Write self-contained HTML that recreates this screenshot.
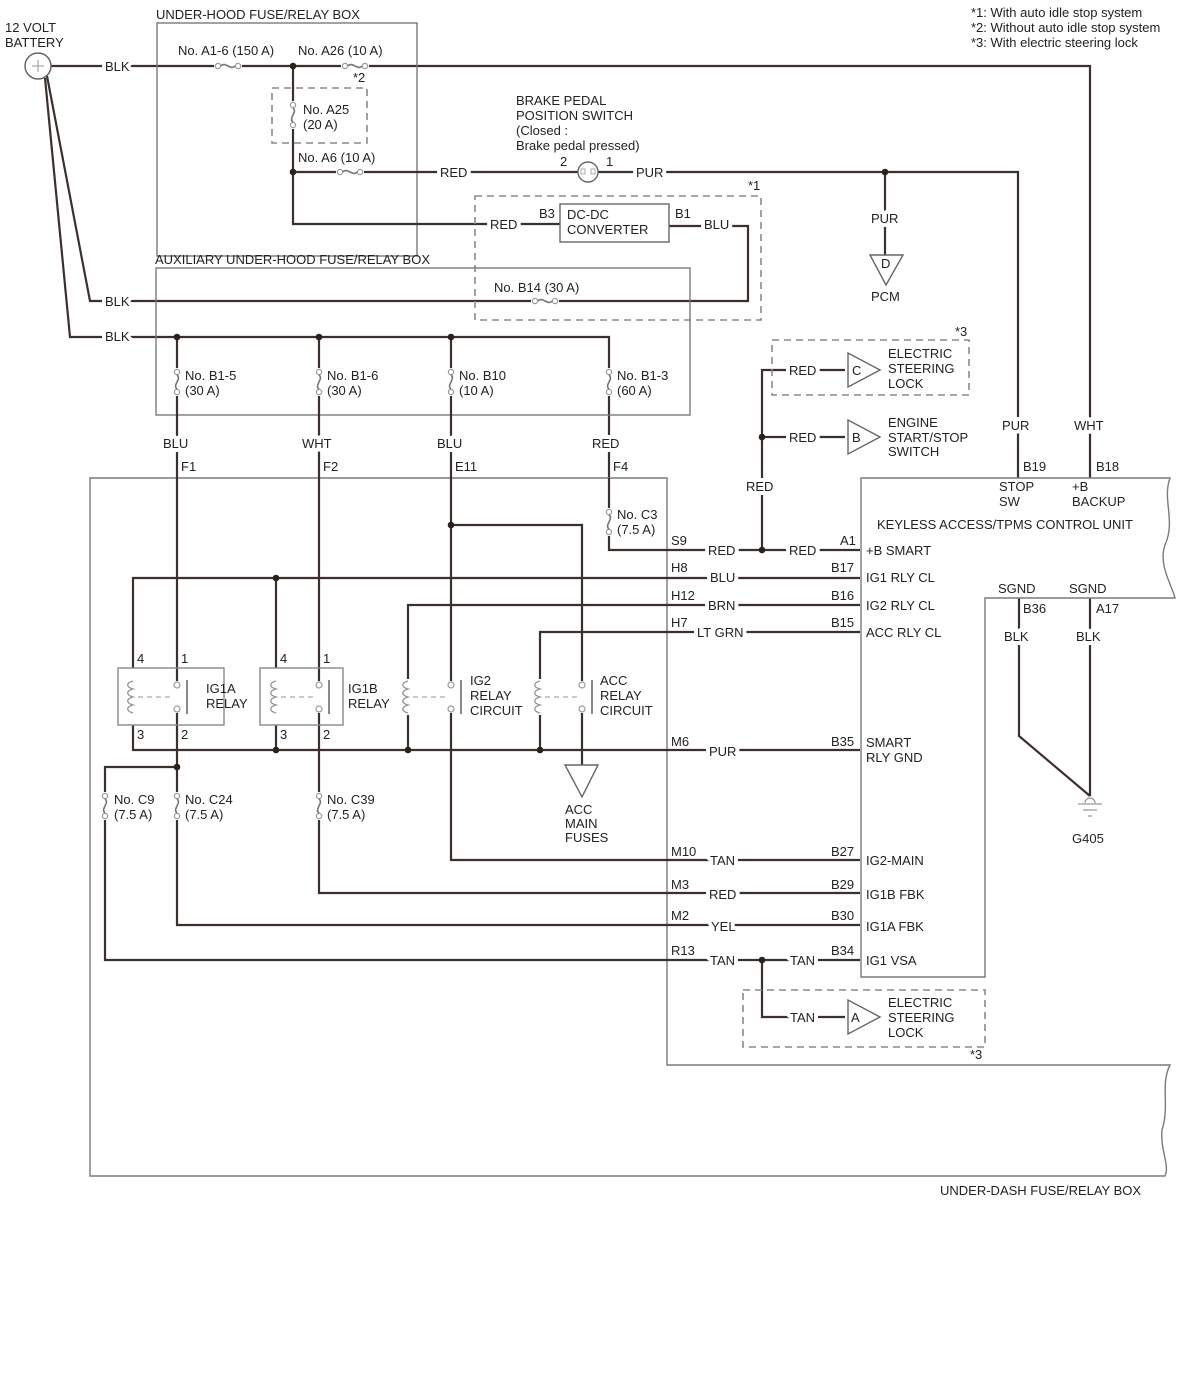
<!DOCTYPE html>
<html><head><meta charset="utf-8"><style>
html,body{margin:0;padding:0;background:#fff}
svg{display:block}
text{font-family:"Liberation Sans",sans-serif;font-size:13px;fill:#222}
.w{stroke:#3b302c;stroke-width:2.2;fill:none}
.b{stroke:#7a7a7a;stroke-width:1.4;fill:none}
.d{stroke:#8a8a8a;stroke-width:1.6;fill:none;stroke-dasharray:7 5}
.l{stroke:#fff;stroke-width:8;paint-order:stroke;stroke-linejoin:round}
</style></head><body>
<svg width="1200" height="1380" viewBox="0 0 1200 1380" xmlns="http://www.w3.org/2000/svg">
<defs>
<g id="vf"><rect x="-4" y="-14" width="8" height="28" fill="#fff"/><circle cx="0" cy="-10" r="2.6" fill="#fff" stroke="#999" stroke-width="1.2"/><circle cx="0" cy="10" r="2.6" fill="#fff" stroke="#999" stroke-width="1.2"/><path d="M0,-7C5,-3 -5,3 0,7" fill="none" stroke="#777" stroke-width="1.6"/></g>
<g id="hf"><use href="#vf" transform="rotate(90)"/></g>
<circle id="dot" r="3.3" fill="#2a201c"/>
<g id="coil"><rect x="-5" y="-18" width="10" height="36" fill="#fff"/><path d="M0,-16c-7,2-7,6 0,8c-7,2-7,6 0,8c-7,2-7,6 0,8c-7,2-7,6 0,8" fill="none" stroke="#999" stroke-width="1.4"/></g>
<g id="ct"><rect x="-5" y="-16" width="10" height="32" fill="#fff"/><circle cx="0" cy="-12" r="3" fill="#fff" stroke="#999" stroke-width="1.2"/><circle cx="0" cy="12" r="3" fill="#fff" stroke="#999" stroke-width="1.2"/><path d="M10,-17V17" stroke="#888" stroke-width="2"/></g>
</defs>

<!-- notes -->
<text x="971" y="17">*1: With auto idle stop system</text>
<text x="971" y="32">*2: Without auto idle stop system</text>
<text x="971" y="47">*3: With electric steering lock</text>

<!-- battery -->
<text x="5" y="32">12 VOLT</text><text x="5" y="47">BATTERY</text>
<path class="w" d="M51,66H1090V478"/>
<path class="w" d="M47,76L90,301H748V226H669"/>
<path class="w" d="M45,78L70,337H609V478"/>
<circle cx="38" cy="66" r="13" fill="#fff" stroke="#666" stroke-width="1.5"/>
<path d="M32,66h12M38,60v12" stroke="#aaa" stroke-width="1.3"/>

<!-- under hood box -->
<rect class="b" x="157" y="23" width="260" height="233"/>
<text x="156" y="19">UNDER-HOOD FUSE/RELAY BOX</text>
<text x="178" y="55">No. A1-6 (150 A)</text>
<text x="298" y="55">No. A26 (10 A)</text>
<text x="353" y="82">*2</text>
<path class="w" d="M293,66V224H560"/>
<use href="#hf" x="228" y="66"/>
<use href="#hf" x="355" y="66"/>
<use href="#dot" x="293" y="66"/>
<rect class="d" x="272" y="88" width="95" height="55"/>
<use href="#vf" x="293" y="115"/>
<text x="303" y="114">No. A25</text><text x="303" y="129">(20 A)</text>
<text x="298" y="162">No. A6 (10 A)</text>
<path class="w" d="M293,172H578M598,172H1018V478M885,172V255"/>
<use href="#hf" x="350" y="172"/>
<use href="#dot" x="293" y="172"/>
<use href="#dot" x="885" y="172"/>
<text x="440" y="177" class="l">RED</text>
<text x="636" y="177" class="l">PUR</text>
<circle cx="588" cy="172" r="10" fill="#fff" stroke="#666" stroke-width="1.4"/>
<rect x="581" y="169" width="4" height="5" fill="none" stroke="#aaa"/><rect x="591" y="169" width="4" height="5" fill="none" stroke="#aaa"/>
<text x="516" y="105">BRAKE PEDAL</text><text x="516" y="120">POSITION SWITCH</text><text x="516" y="135">(Closed :</text><text x="516" y="150">Brake pedal pressed)</text>
<text x="560" y="166">2</text><text x="606" y="166">1</text>
<text x="871" y="223" class="l">PUR</text>
<path d="M870,255H903L886,285Z" fill="#fff" stroke="#666" stroke-width="1.4"/>
<text x="881" y="268">D</text>
<text x="871" y="301">PCM</text>

<!-- dc-dc -->
<rect class="d" x="475" y="196" width="286" height="124"/>
<text x="748" y="190">*1</text>
<rect x="560" y="204" width="109" height="38" fill="#fff" stroke="#666" stroke-width="1.4"/>
<text x="567" y="219">DC-DC</text><text x="567" y="234">CONVERTER</text>
<text x="490" y="229" class="l">RED</text>
<text x="539" y="218">B3</text><text x="675" y="218">B1</text>
<text x="704" y="229" class="l">BLU</text>

<!-- aux box -->
<rect class="b" x="156" y="268" width="534" height="147"/>
<text x="155" y="264">AUXILIARY UNDER-HOOD FUSE/RELAY BOX</text>
<text x="494" y="292">No. B14 (30 A)</text>
<use href="#hf" x="545" y="301"/>
<text x="105" y="306" class="l">BLK</text>
<text x="105" y="341" class="l">BLK</text>
<text x="105" y="71" class="l">BLK</text>

<!-- under-dash box -->
<path class="b" d="M90,478H667V1065H1170C1160,1085 1170,1105 1162,1130C1160,1150 1170,1165 1165,1176H90Z"/>
<text x="940" y="1195">UNDER-DASH FUSE/RELAY BOX</text>

<!-- wires -->
<path class="w" d="M177,337V767M319,337V893H860M451,337V860H860"/>
<path class="w" d="M609,478V550H860"/>
<path class="w" d="M762,550V370H845M762,437H845"/>
<path class="w" d="M133,668V578H860M276,578V668M408,750V605H860M540,750V632H860"/>
<path class="w" d="M451,525H582V765"/>
<path class="w" d="M133,725V750H860M276,725V750"/>
<path class="w" d="M177,767H105V960H860M177,767V925H860"/>
<path class="w" d="M762,960V1017H845"/>
<path class="w" d="M1019,598V736L1090,796M1090,598V796"/>

<use href="#dot" x="177" y="337"/><use href="#dot" x="319" y="337"/><use href="#dot" x="451" y="337"/>
<use href="#vf" x="177" y="382"/><use href="#vf" x="319" y="382"/><use href="#vf" x="451" y="382"/><use href="#vf" x="609" y="382"/>
<text x="185" y="380">No. B1-5</text><text x="185" y="395">(30 A)</text>
<text x="327" y="380">No. B1-6</text><text x="327" y="395">(30 A)</text>
<text x="459" y="380">No. B10</text><text x="459" y="395">(10 A)</text>
<text x="617" y="380">No. B1-3</text><text x="617" y="395">(60 A)</text>
<text x="163" y="448" class="l">BLU</text><text x="302" y="448" class="l">WHT</text><text x="437" y="448" class="l">BLU</text><text x="592" y="448" class="l">RED</text>
<text x="181" y="471">F1</text><text x="323" y="471">F2</text><text x="455" y="471">E11</text><text x="613" y="471">F4</text>

<use href="#vf" x="609" y="522"/>
<text x="617" y="519">No. C3</text><text x="617" y="534">(7.5 A)</text>
<text x="671" y="545">S9</text>
<use href="#dot" x="762" y="550"/><use href="#dot" x="762" y="437"/>
<text x="708" y="555" class="l">RED</text><text x="789" y="555" class="l">RED</text>
<text x="746" y="491" class="l">RED</text>
<text x="789" y="375" class="l">RED</text><text x="789" y="442" class="l">RED</text>
<rect class="d" x="772" y="340" width="197" height="55"/>
<text x="955" y="336">*3</text>
<path d="M848,353V387L880,370Z" fill="#fff" stroke="#666" stroke-width="1.4"/><text x="852" y="375">C</text>
<path d="M848,420V454L880,437Z" fill="#fff" stroke="#666" stroke-width="1.4"/><text x="852" y="442">B</text>
<text x="888" y="358">ELECTRIC</text><text x="888" y="373">STEERING</text><text x="888" y="388">LOCK</text>
<text x="888" y="427">ENGINE</text><text x="888" y="442">START/STOP</text><text x="888" y="456">SWITCH</text>

<use href="#dot" x="451" y="525"/><use href="#dot" x="276" y="578"/>
<use href="#dot" x="276" y="750"/><use href="#dot" x="408" y="750"/><use href="#dot" x="540" y="750"/>
<use href="#dot" x="177" y="767"/>
<use href="#vf" x="105" y="806"/><use href="#vf" x="177" y="806"/><use href="#vf" x="319" y="806"/>
<text x="114" y="804">No. C9</text><text x="114" y="819">(7.5 A)</text>
<text x="185" y="804">No. C24</text><text x="185" y="819">(7.5 A)</text>
<text x="327" y="804">No. C39</text><text x="327" y="819">(7.5 A)</text>

<!-- relays -->
<rect x="118" y="668" width="106" height="57" fill="none" stroke="#888" stroke-width="1.4"/>
<rect x="260" y="668" width="83" height="57" fill="none" stroke="#888" stroke-width="1.4"/>
<g fill="none" stroke="#aaa" stroke-width="1.3" stroke-dasharray="5 4">
<path d="M138,697H177M281,697H319M413,697H451M545,697H582"/>
</g>
<use href="#coil" x="133" y="697"/><use href="#coil" x="276" y="697"/><use href="#coil" x="408" y="697"/><use href="#coil" x="540" y="697"/>
<use href="#ct" x="177" y="697"/><use href="#ct" x="319" y="697"/><use href="#ct" x="451" y="697"/><use href="#ct" x="582" y="697"/>
<text x="137" y="663">4</text><text x="181" y="663">1</text><text x="137" y="739">3</text><text x="181" y="739">2</text>
<text x="280" y="663">4</text><text x="323" y="663">1</text><text x="280" y="739">3</text><text x="323" y="739">2</text>
<text x="206" y="693">IG1A</text><text x="206" y="708">RELAY</text>
<text x="348" y="693">IG1B</text><text x="348" y="708">RELAY</text>
<text x="470" y="685">IG2</text><text x="470" y="700">RELAY</text><text x="470" y="715">CIRCUIT</text>
<text x="600" y="685">ACC</text><text x="600" y="700">RELAY</text><text x="600" y="715">CIRCUIT</text>
<path d="M565,765H598L582,797Z" fill="#fff" stroke="#666" stroke-width="1.4"/>
<text x="565" y="814">ACC</text><text x="565" y="828">MAIN</text><text x="565" y="842">FUSES</text>

<!-- connector labels -->
<text x="671" y="572">H8</text><text x="671" y="600">H12</text><text x="671" y="627">H7</text>
<text x="671" y="746">M6</text><text x="671" y="856">M10</text><text x="671" y="889">M3</text><text x="671" y="920">M2</text><text x="671" y="955">R13</text>
<text x="710" y="582" class="l">BLU</text><text x="708" y="610" class="l">BRN</text><text x="697" y="637" class="l">LT GRN</text>
<text x="709" y="756" class="l">PUR</text><text x="710" y="865" class="l">TAN</text><text x="709" y="899" class="l">RED</text><text x="711" y="931" class="l">YEL</text><text x="710" y="965" class="l">TAN</text>
<use href="#dot" x="762" y="960"/>
<text x="790" y="965" class="l">TAN</text><text x="790" y="1022" class="l">TAN</text>
<rect class="d" x="743" y="990" width="242" height="57"/>
<text x="970" y="1059">*3</text>
<path d="M848,1000V1034L880,1017Z" fill="#fff" stroke="#666" stroke-width="1.4"/><text x="851" y="1022">A</text>
<text x="888" y="1007">ELECTRIC</text><text x="888" y="1022">STEERING</text><text x="888" y="1037">LOCK</text>

<!-- control unit -->
<path class="b" d="M861,478H1170C1162,500 1176,520 1165,545C1158,565 1172,585 1175,598H985V977H861Z"/>
<text x="840" y="545">A1</text><text x="831" y="572">B17</text><text x="831" y="600">B16</text><text x="831" y="627">B15</text>
<text x="831" y="746">B35</text><text x="831" y="856">B27</text><text x="831" y="889">B29</text><text x="831" y="920">B30</text><text x="831" y="955">B34</text>
<text x="866" y="555">+B SMART</text><text x="866" y="582">IG1 RLY CL</text><text x="866" y="610">IG2 RLY CL</text><text x="866" y="637">ACC RLY CL</text>
<text x="866" y="747">SMART</text><text x="866" y="762">RLY GND</text>
<text x="866" y="865">IG2-MAIN</text><text x="866" y="899">IG1B FBK</text><text x="866" y="931">IG1A FBK</text><text x="866" y="965">IG1 VSA</text>
<text x="877" y="529">KEYLESS ACCESS/TPMS CONTROL UNIT</text>
<text x="999" y="491">STOP</text><text x="999" y="506">SW</text>
<text x="1072" y="491">+B</text><text x="1072" y="506">BACKUP</text>
<text x="1023" y="471">B19</text><text x="1096" y="471">B18</text>
<text x="1002" y="430" class="l">PUR</text><text x="1074" y="430" class="l">WHT</text>
<text x="998" y="593">SGND</text><text x="1069" y="593">SGND</text>
<text x="1023" y="613">B36</text><text x="1096" y="613">A17</text>
<text x="1004" y="641" class="l">BLK</text><text x="1076" y="641" class="l">BLK</text>
<path d="M1085,803a5,5 0 0 1 10,0M1078,804H1102M1083,810H1097M1088,816H1092" fill="none" stroke="#999" stroke-width="1.3"/>
<text x="1072" y="843">G405</text>
</svg>
</body></html>
